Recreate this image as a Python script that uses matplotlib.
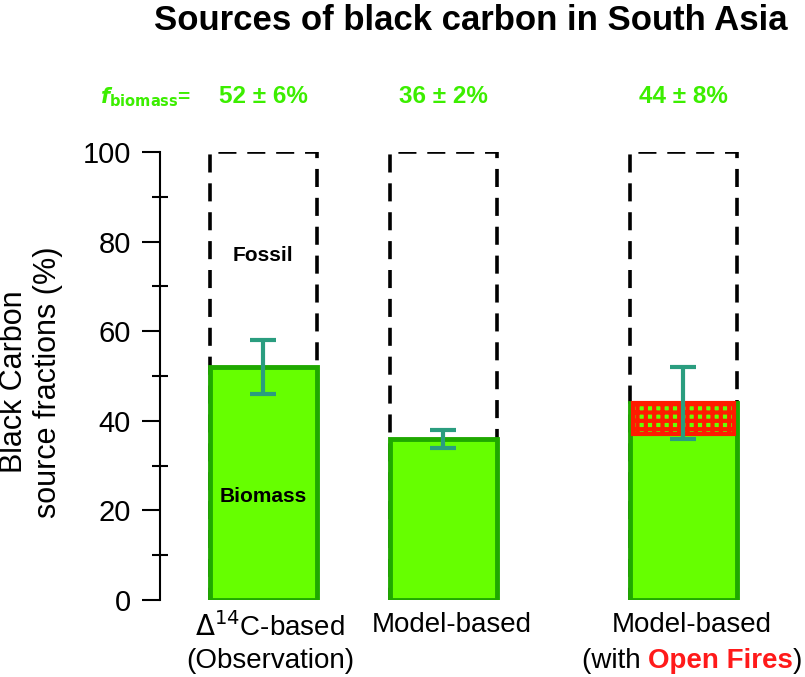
import matplotlib
matplotlib.use("Agg")
from matplotlib import pyplot as plt
from matplotlib.ticker import MultipleLocator

plt.rcParams['font.family'] = ['Liberation Sans', 'DejaVu Sans']
plt.rcParams['hatch.linewidth'] = 3.0

# data
categories = ["$\\Delta^{14}$C-based\n(Observation)", "Model-based", "Model-based"]
biomass = [52, 36, 44]
errors = [6, 2, 8]
openFires = [0, 0, 7]
totals = [100, 100, 100]
fLabels = ["52 ± 6%", "36 ± 2%", "44 ± 8%"]
xPos = [103, 283, 523]
labelPos = [110, 292, 532]

barWidth = 107
green = "#66FF00"
greenEdge = "#1FA800"
errColor = "#2A9D7F"
labelGreen = "#3CEE00"
fireRed = "#FF1A00"

fig = plt.figure(figsize=(8.05, 6.77), dpi=100)
ax = fig.add_axes([160/805, 77/677, 600/805, 448/677])

# fossil outline (dashed)
ax.bar(xPos, totals, width=barWidth, fill=False, edgecolor="black",
       linewidth=2.6, linestyle=(0, (5, 3)), zorder=1)
# biomass bars
ax.bar(xPos, biomass, width=barWidth, color=green, edgecolor=greenEdge,
       linewidth=3.5, zorder=2)
# open fire portion (only where there is one)
for x, b, f in zip(xPos, biomass, openFires):
    if f > 0:
        ax.bar(x, f, bottom=b - f, width=barWidth - 6, color=green,
               edgecolor=fireRed, hatch="++", linewidth=3, zorder=3)
ax.errorbar(xPos, biomass, yerr=errors, fmt="none", ecolor=errColor,
            elinewidth=3, capsize=9.5, capthick=3, zorder=4)

ax.text(xPos[0], 77, "Fossil", ha="center", va="center", fontsize=15, fontweight="bold")
ax.text(xPos[0], 23, "Biomass", ha="center", va="center", fontsize=15, fontweight="bold")

ax.set_xlim(0, 600)
ax.set_ylim(0, 100)
ax.set_xticks([])
ax.yaxis.set_major_locator(MultipleLocator(20))
ax.yaxis.set_minor_locator(MultipleLocator(10))
ax.tick_params(axis="y", which="major", direction="out", length=13, width=1.5,
               labelsize=21, pad=8)
ax.tick_params(axis="y", which="minor", direction="inout", length=12, width=1.5)
for s in ["top", "right", "bottom"]:
    ax.spines[s].set_visible(False)
ax.spines["left"].set_linewidth(1.5)
fig.text(31/805, 1 - 382/677, "Black Carbon\nsource fractions (%)", rotation=90,
         ha="center", va="center", fontsize=22, linespacing=1.15)

# x labels
ax.text(labelPos[0], -2.6, categories[0], ha="center", va="top",
        fontsize=20, linespacing=1.3)
ax.text(labelPos[1], -2.6, categories[1], ha="center", va="top", fontsize=20)
ax.text(labelPos[2], -2.6, categories[2], ha="center", va="top", fontsize=20)

fig.canvas.draw()
r = fig.canvas.get_renderer()
parts = [("(with ", "black", "normal"), ("Open Fires", "#FF1A1A", "bold"), (")", "black", "normal")]
tmp = [ax.text(0, 0, p, fontsize=20, fontweight=w) for p, c, w in parts]
widths = [t.get_window_extent(r).width for t in tmp]
for t in tmp:
    t.remove()
xDisp = ax.transData.transform((labelPos[2], 0))[0] - sum(widths) / 2
yDisp = ax.transData.transform((0, -10.8))[1]
for (p, c, w), wd in zip(parts, widths):
    x0 = ax.transData.inverted().transform((xDisp, yDisp))
    ax.text(x0[0], x0[1], p, color=c, fontweight=w, fontsize=20, ha="left", va="top")
    xDisp += wd

# f_biomass labels
ax.text(-60, 112.3, "$\\mathbfit{f}_{\\mathbf{biomass}}$=", color=labelGreen, fontsize=15,
        fontweight="bold", ha="left", va="center", clip_on=False)
for x, lab in zip(xPos, fLabels):
    ax.text(x, 112.3, lab, color=labelGreen, fontsize=17.5, fontweight="bold",
            ha="center", va="center", clip_on=False)

fig.text(471/805, 1 - 20/677, "Sources of black carbon in South Asia", ha="center",
         va="center", fontsize=25, fontweight="bold")

fig.savefig("out.png", dpi=100)
